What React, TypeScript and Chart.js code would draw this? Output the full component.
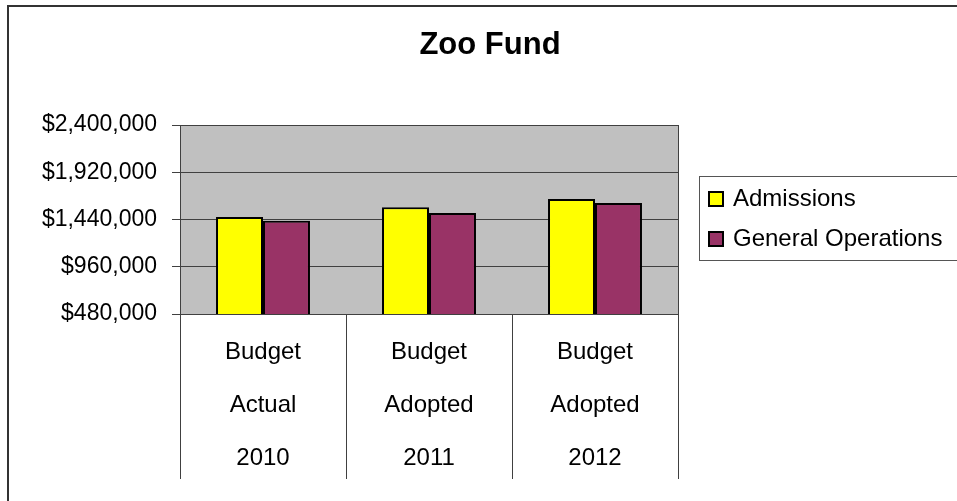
import React, { useEffect, useRef } from 'react';
import { Chart, registerables } from 'chart.js';

Chart.register(...registerables);

const chartTitle = 'Zoo Fund';
const categories: string[][] = [
  ['Budget', 'Actual', '2010'],
  ['Budget', 'Adopted', '2011'],
  ['Budget', 'Adopted', '2012'],
];
const seriesNames = ['Admissions', 'General Operations'];
const admissions = [1465000, 1564000, 1648000];
const generalOperations = [1428000, 1506000, 1608000];
const yTickValues = [480000, 960000, 1440000, 1920000, 2400000];
const seriesColors = ['#FFFF00', '#993366'];

const FONT = '"Liberation Sans", Arial, sans-serif';
const LINE = '#404040';

const decorPlugin = {
  id: 'decor',
  beforeDraw(chart: any) {
    const { ctx, chartArea } = chart;
    ctx.save();
    ctx.fillStyle = '#FFFFFF';
    ctx.fillRect(0, 0, chart.width, chart.height);
    // outer frame
    ctx.strokeStyle = '#333333';
    ctx.lineWidth = 2;
    ctx.beginPath();
    ctx.moveTo(8, chart.height + 5);
    ctx.lineTo(8, 6);
    ctx.lineTo(chart.width + 5, 6);
    ctx.stroke();
    // plot background
    ctx.fillStyle = '#C0C0C0';
    ctx.fillRect(chartArea.left, chartArea.top, chartArea.right - chartArea.left, chartArea.bottom - chartArea.top);
    // title
    ctx.fillStyle = '#000000';
    ctx.font = `bold 31px ${FONT}`;
    ctx.textAlign = 'center';
    ctx.textBaseline = 'middle';
    ctx.fillText(chartTitle, 490, 45);
    ctx.restore();
  },
  beforeDatasetsDraw(chart: any) {
    const { ctx, chartArea } = chart;
    const x = chart.scales.x;
    ctx.save();
    ctx.strokeStyle = LINE;
    ctx.lineWidth = 1;
    // right border of plot area
    ctx.beginPath();
    ctx.moveTo(Math.round(chartArea.right) + 0.5, chartArea.top);
    ctx.lineTo(Math.round(chartArea.right) + 0.5, chartArea.bottom);
    ctx.stroke();
    // category divider lines below axis
    const n = categories.length;
    const w = (x.right - x.left) / n;
    for (let i = 0; i <= n; i++) {
      const px = Math.round(x.left + i * w) + 0.5;
      ctx.beginPath();
      ctx.moveTo(px, chartArea.bottom);
      ctx.lineTo(px, chartArea.bottom + 165);
      ctx.stroke();
    }
    ctx.restore();
  },
  afterDraw(chart: any) {
    const { ctx } = chart;
    ctx.save();
    // legend box
    ctx.strokeStyle = '#555555';
    ctx.lineWidth = 1;
    ctx.strokeRect(699.5, 176.5, 300, 84);
    const rows = [199, 239];
    chart.data.datasets.forEach((ds: any, i: number) => {
      const cy = rows[i];
      ctx.fillStyle = ds.backgroundColor;
      ctx.fillRect(709, cy - 7, 14, 14);
      ctx.strokeStyle = '#000000';
      ctx.lineWidth = 2;
      ctx.strokeRect(709, cy - 7, 14, 14);
      ctx.fillStyle = '#000000';
      ctx.font = `24px ${FONT}`;
      ctx.textAlign = 'left';
      ctx.textBaseline = 'middle';
      ctx.fillText(ds.label, 733, cy);
    });
    ctx.restore();
  },
};

export default function App() {
  const canvasRef = useRef<HTMLCanvasElement | null>(null);

  useEffect(() => {
    document.body.style.margin = '0';
    const canvas = canvasRef.current;
    if (!canvas) return;
    const chart = new Chart(canvas, {
      type: 'bar',
      data: {
        labels: categories,
        datasets: [
          {
            label: seriesNames[0],
            data: admissions,
            backgroundColor: seriesColors[0],
            borderColor: '#000000',
            borderWidth: 2,
            categoryPercentage: 0.566,
            barPercentage: 1.0,
          },
          {
            label: seriesNames[1],
            data: generalOperations,
            backgroundColor: seriesColors[1],
            borderColor: '#000000',
            borderWidth: 2,
            categoryPercentage: 0.566,
            barPercentage: 1.0,
          },
        ],
      },
      options: {
        animation: false,
        responsive: false,
        devicePixelRatio: 1,
        layout: { padding: { top: 125, right: 279, left: 0, bottom: 0 } },
        plugins: {
          legend: { display: false },
          title: { display: false },
          tooltip: { enabled: false },
        },
        scales: {
          x: {
            offset: true,
            grid: { display: false, drawTicks: false },
            border: { display: true, color: LINE, width: 1 },
            ticks: {
              color: '#000000',
              padding: 12,
              maxRotation: 0,
              autoSkip: false,
              font: { family: FONT, size: 24, lineHeight: 2.2 },
            },
            afterFit(scale: any) {
              scale.height = 187;
            },
          },
          y: {
            min: yTickValues[0],
            max: yTickValues[yTickValues.length - 1],
            afterBuildTicks(scale: any) {
              scale.ticks = yTickValues.map((v) => ({ value: v }));
            },
            grid: { color: LINE, lineWidth: 1, tickLength: 8, drawTicks: true },
            border: { display: true, color: LINE, width: 1 },
            ticks: {
              color: '#000000',
              padding: 15,
              font: { family: FONT, size: 23 },
              callback: (v: any) => '$' + Number(v).toLocaleString('en-US'),
            },
            afterFit(scale: any) {
              scale.width = 180;
            },
          },
        },
      },
      plugins: [decorPlugin],
    });
    return () => chart.destroy();
  }, []);

  return (
    <div style={{ width: 957, height: 501 }}>
      <canvas ref={canvasRef} width={957} height={501} style={{ display: 'block' }} />
    </div>
  );
}
